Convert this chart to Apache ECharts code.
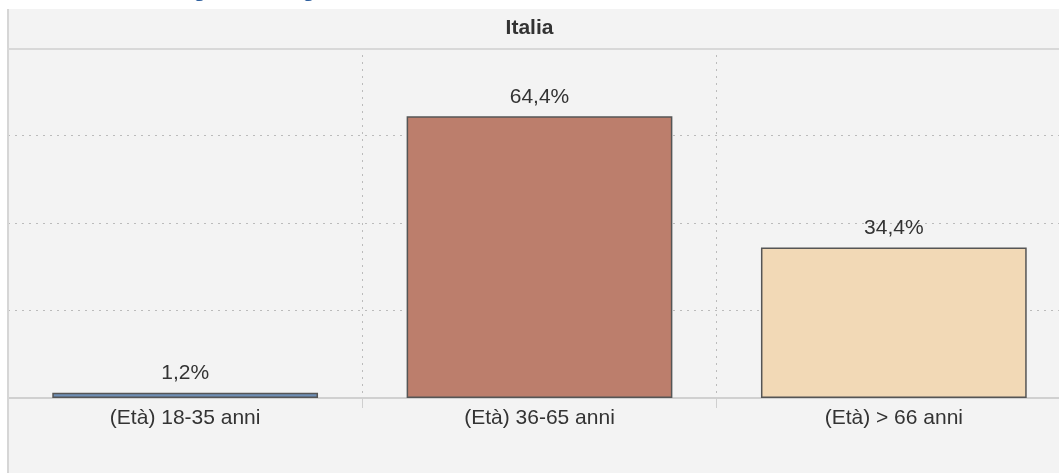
<!DOCTYPE html>
<html>
<head>
<meta charset="utf-8">
<script src="https://cdn.jsdelivr.net/npm/echarts@6/dist/echarts.min.js"></script>
<style>
html,body{margin:0;padding:0;background:#fff;}
#c{width:1059px;height:473px;}
</style>
</head>
<body>
<div id="c"></div>
<script>
const headerTitle = 'Italia';
const categories = ['(Età) 18-35 anni', '(Età) 36-65 anni', '(Età) > 66 anni'];
const values = [1.2, 64.4, 34.4];
const barColors = ['#6f8fb6', '#bc7e6c', '#f2d9b6'];

const chart = echarts.init(document.getElementById('c'), null, {renderer: 'canvas'});
const fmt = v => v.toFixed(1).replace('.', ',') + '%';
const FONT = '"Liberation Sans", Arial';
chart.setOption({
  animation: false,
  backgroundColor: '#ffffff',
  graphic: [
    {type: 'rect', left: 7, top: 9, shape: {width: 1060, height: 470}, style: {fill: '#f3f3f3'}, z: -10},
    {type: 'rect', left: 7, top: 9, shape: {width: 2, height: 470}, style: {fill: '#d6d6d6'}, z: 10},
    {type: 'rect', left: 7, top: 48, shape: {width: 1060, height: 2}, style: {fill: '#d8d8d8'}, z: 10},
    {type: 'text', x: 193, y: -21, style: {text: 'g', fill: '#2e5f9e', font: 'bold 22px ' + FONT}},
    {type: 'text', x: 302, y: -21, style: {text: 'g', fill: '#2e5f9e', font: 'bold 22px ' + FONT}},
    {type: 'text', left: 'center', top: 18, style: {text: headerTitle, fill: '#333', font: 'bold 21px ' + FONT}, z: 5}
  ],
  grid: {left: 8, width: 1063, top: 48, height: 350, outerBoundsMode: 'none', containLabel: false},
  xAxis: {
    type: 'category',
    data: categories,
    axisLine: {lineStyle: {color: '#d0d0d0', width: 2}},
    axisTick: {show: true, length: 10, lineStyle: {color: '#cfcfcf'}},
    axisLabel: {color: '#333', fontSize: 21, fontFamily: FONT, margin: 10},
    splitLine: {show: true, lineStyle: {color: '#bbbbbb', type: [2, 5], width: 1}}
  },
  yAxis: {
    type: 'value', min: 0, max: 80, interval: 20,
    axisLabel: {show: false}, axisLine: {show: false}, axisTick: {show: false},
    splitLine: {show: true, lineStyle: {color: '#bbbbbb', type: [2, 5], width: 1}}
  },
  series: [{
    type: 'bar',
    barWidth: '75%',
    data: values.map((v, i) => ({value: v, itemStyle: {color: barColors[i]}})),
    itemStyle: {borderColor: '#555', borderWidth: 1.5},
    label: {show: true, position: 'top', distance: 9, color: '#333', fontSize: 21, fontFamily: FONT, formatter: p => fmt(p.value)}
  }]
});
</script>
</body>
</html>
